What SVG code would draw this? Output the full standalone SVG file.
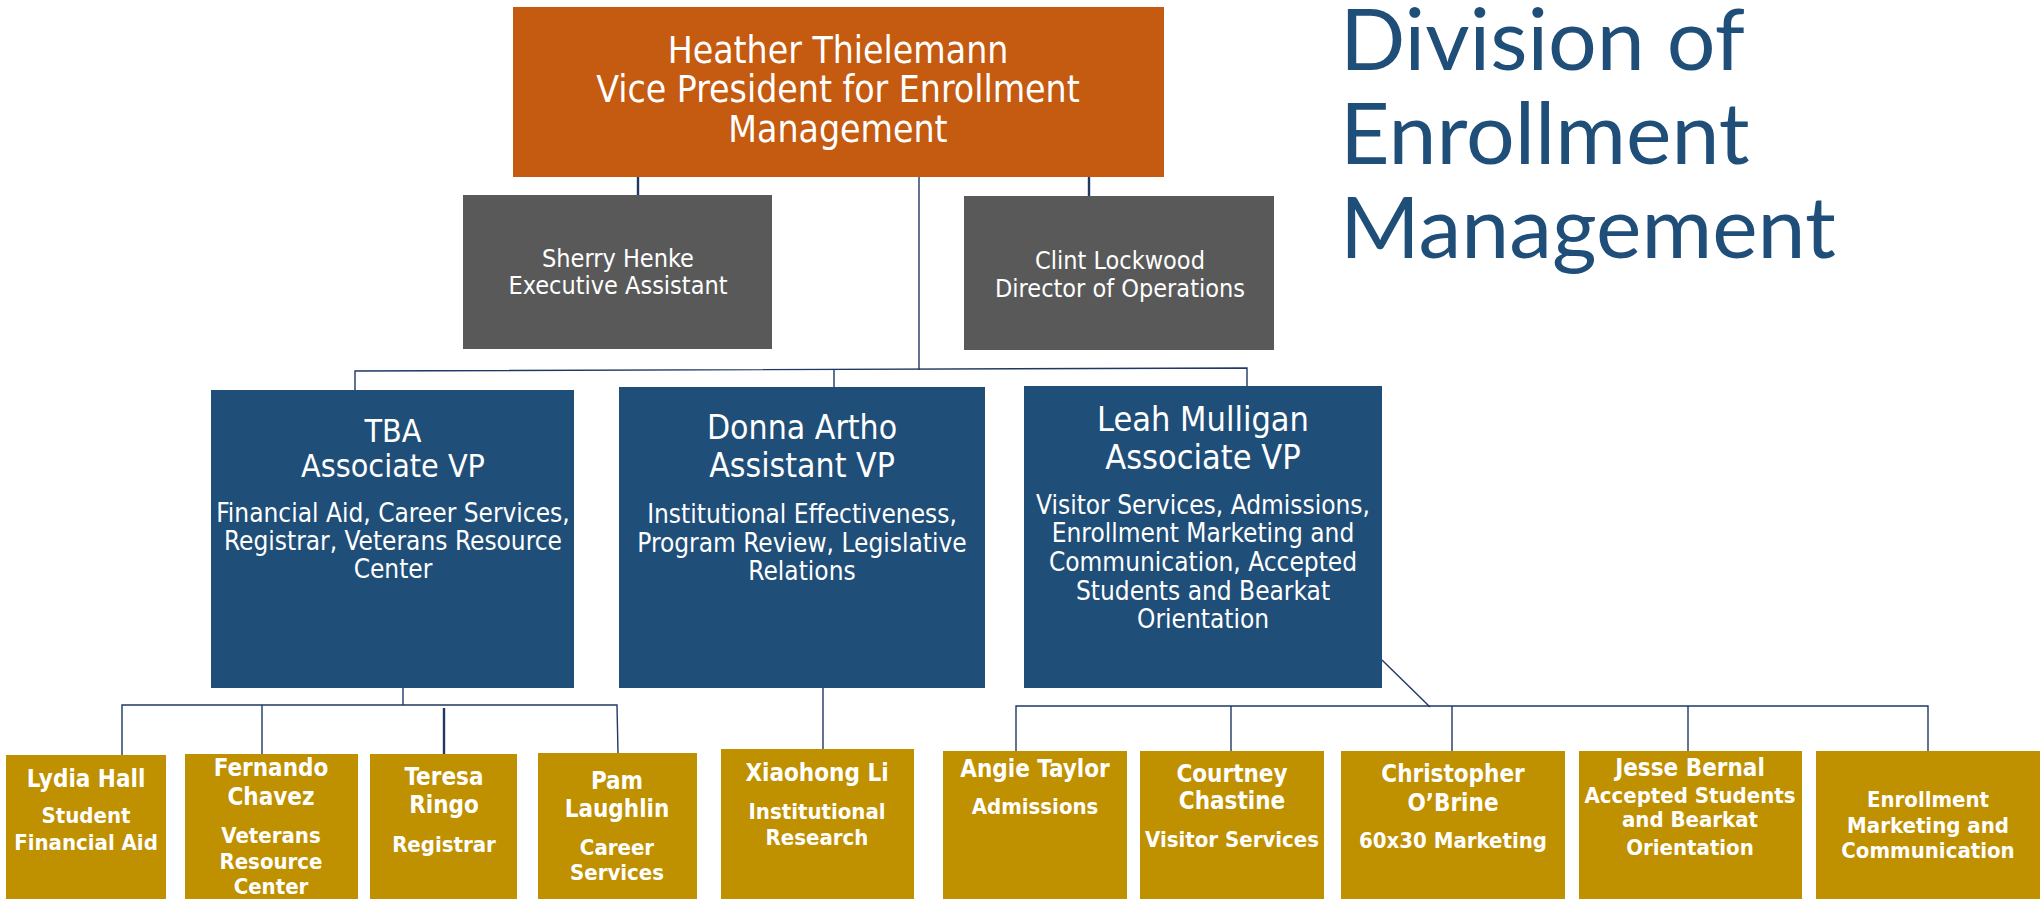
<svg xmlns="http://www.w3.org/2000/svg" width="2041" height="899" viewBox="0 0 2041 899">
<style>
.t{font-family:"DejaVu Sans Condensed","DejaVu Sans",sans-serif;font-stretch:condensed;fill:#fff;text-anchor:middle}
.b{font-weight:bold}
.title{font-family:Lato,"Open Sans",sans-serif;fill:#1F4E79;font-size:86px}
.or{fill:#C55A11}.gr{fill:#595959}.nv{fill:#1F4E79}.gd{fill:#BF9000}
.c{stroke:#1F3864;stroke-width:1.4;fill:none}
.ck{stroke:#1F3864;stroke-width:2.4;fill:none}
.n{font-size:24px}.d{font-size:22px}
</style>
<rect width="2041" height="899" fill="#fff"/>
<g id="connectors">
<line class="ck" x1="638" y1="177" x2="638" y2="203"/>
<line class="ck" x1="1089" y1="177" x2="1089" y2="203"/>
<line class="c" x1="919" y1="177" x2="919" y2="370"/>
<polyline class="c" points="355,390 355,371 1247,368 1247,386"/>
<line class="c" x1="834" y1="370" x2="834" y2="387"/>
<line class="c" x1="403" y1="688" x2="403" y2="705"/>
<polyline class="c" points="122,755 122,705 617,705 618,753"/>
<line class="c" x1="262" y1="705" x2="262" y2="754"/>
<line class="ck" x1="444" y1="708" x2="444" y2="754"/>
<line class="c" x1="823" y1="688" x2="823" y2="749" stroke="#333"/>
<line class="c" x1="1382" y1="660" x2="1430" y2="707"/>
<polyline class="c" points="1016,751 1016,706 1928,706 1928,751"/>
<line class="c" x1="1231" y1="706" x2="1231" y2="751"/>
<line class="c" x1="1452" y1="706" x2="1452" y2="751"/>
<line class="c" x1="1688" y1="706" x2="1688" y2="751"/>
</g>
<g id="title">
<text class="title" x="1340" y="70">Division of</text>
<text class="title" x="1340" y="164">Enrollment</text>
<text class="title" x="1340" y="258">Management</text>
</g>
<g id="heather">
<rect class="or" x="513" y="7" width="651" height="170"/>
<text class="t" x="838" font-size="37"><tspan x="838" y="63">Heather Thielemann</tspan><tspan x="838" y="102">Vice President for Enrollment</tspan><tspan x="838" y="142">Management</tspan></text>
</g>
<g id="sherry">
<rect class="gr" x="463" y="195" width="309" height="154"/>
<text class="t" font-size="25"><tspan x="618" y="267">Sherry Henke</tspan><tspan x="618" y="294">Executive Assistant</tspan></text>
</g>
<g id="clint">
<rect class="gr" x="964" y="196" width="310" height="154"/>
<text class="t" font-size="25"><tspan x="1120" y="269">Clint Lockwood</tspan><tspan x="1120" y="297">Director of Operations</tspan></text>
</g>
<g id="tba">
<rect class="nv" x="211" y="390" width="363" height="298"/>
<text class="t" font-size="32"><tspan x="393" y="442">TBA</tspan><tspan x="393" y="477">Associate VP</tspan></text>
<text class="t" font-size="26"><tspan x="393" y="522">Financial Aid, Career Services,</tspan><tspan x="393" y="550">Registrar, Veterans Resource</tspan><tspan x="393" y="578">Center</tspan></text>
</g>
<g id="donna">
<rect class="nv" x="619" y="387" width="366" height="301"/>
<text class="t" font-size="33.5"><tspan x="802" y="439">Donna Artho</tspan><tspan x="802" y="477">Assistant VP</tspan></text>
<text class="t" font-size="26"><tspan x="802" y="523">Institutional Effectiveness,</tspan><tspan x="802" y="552">Program Review, Legislative</tspan><tspan x="802" y="580">Relations</tspan></text>
</g>
<g id="leah">
<rect class="nv" x="1024" y="386" width="358" height="302"/>
<text class="t" font-size="34"><tspan x="1203" y="431">Leah Mulligan</tspan><tspan x="1203" y="469">Associate VP</tspan></text>
<text class="t" font-size="26"><tspan x="1203" y="514">Visitor Services, Admissions,</tspan><tspan x="1203" y="542">Enrollment Marketing and</tspan><tspan x="1203" y="571">Communication, Accepted</tspan><tspan x="1203" y="600">Students and Bearkat</tspan><tspan x="1203" y="628">Orientation</tspan></text>
</g>
<g id="lydia">
<rect class="gd" x="6" y="755" width="160" height="144"/>
<text class="t b n" x="86" y="787">Lydia Hall</text>
<text class="t b d"><tspan x="86" y="823">Student</tspan><tspan x="86" y="850">Financial Aid</tspan></text>
</g>
<g id="fernando">
<rect class="gd" x="185" y="754" width="173" height="145"/>
<text class="t b n"><tspan x="271" y="776">Fernando</tspan><tspan x="271" y="805">Chavez</tspan></text>
<text class="t b d"><tspan x="271" y="843">Veterans</tspan><tspan x="271" y="869">Resource</tspan><tspan x="271" y="894">Center</tspan></text>
</g>
<g id="teresa">
<rect class="gd" x="370" y="754" width="147" height="145"/>
<text class="t b n"><tspan x="444" y="785">Teresa</tspan><tspan x="444" y="813">Ringo</tspan></text>
<text class="t b d" x="444" y="852">Registrar</text>
</g>
<g id="pam">
<rect class="gd" x="538" y="753" width="159" height="146"/>
<text class="t b n"><tspan x="617" y="789">Pam</tspan><tspan x="617" y="817">Laughlin</tspan></text>
<text class="t b d"><tspan x="617" y="855">Career</tspan><tspan x="617" y="880">Services</tspan></text>
</g>
<g id="xiaohong">
<rect class="gd" x="721" y="749" width="193" height="150"/>
<text class="t b n" x="817" y="781">Xiaohong Li</text>
<text class="t b d"><tspan x="817" y="819">Institutional</tspan><tspan x="817" y="845">Research</tspan></text>
</g>
<g id="angie">
<rect class="gd" x="943" y="751" width="184" height="148"/>
<text class="t b n" x="1035" y="777">Angie Taylor</text>
<text class="t b d" x="1035" y="814">Admissions</text>
</g>
<g id="courtney">
<rect class="gd" x="1140" y="751" width="184" height="148"/>
<text class="t b n"><tspan x="1232" y="782">Courtney</tspan><tspan x="1232" y="809">Chastine</tspan></text>
<text class="t b d" x="1232" y="847">Visitor Services</text>
</g>
<g id="christopher">
<rect class="gd" x="1341" y="751" width="224" height="148"/>
<text class="t b n"><tspan x="1453" y="782">Christopher</tspan><tspan x="1453" y="811">O’Brine</tspan></text>
<text class="t b d" x="1453" y="848">60x30 Marketing</text>
</g>
<g id="jesse">
<rect class="gd" x="1579" y="751" width="223" height="148"/>
<text class="t b n" x="1690" y="776">Jesse Bernal</text>
<text class="t b d"><tspan x="1690" y="803">Accepted Students</tspan><tspan x="1690" y="827">and Bearkat</tspan><tspan x="1690" y="855">Orientation</tspan></text>
</g>
<g id="enrollment">
<rect class="gd" x="1816" y="751" width="224" height="148"/>
<text class="t b d"><tspan x="1928" y="807">Enrollment</tspan><tspan x="1928" y="833">Marketing and</tspan><tspan x="1928" y="858">Communication</tspan></text>
</g>
</svg>
